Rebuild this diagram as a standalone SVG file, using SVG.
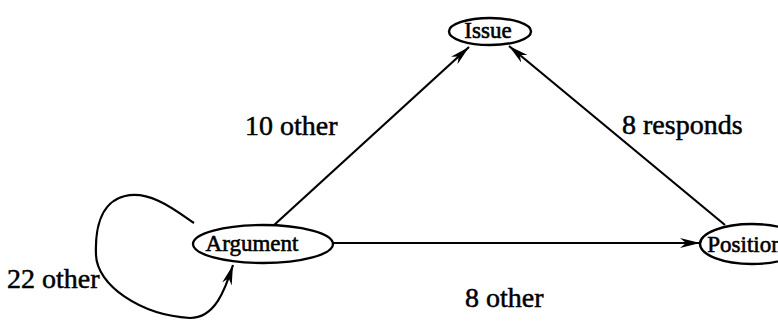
<svg xmlns="http://www.w3.org/2000/svg" width="778" height="322" viewBox="0 0 778 322">
<style>
.node ellipse{fill:#fff;stroke:#000;stroke-width:2.4}
.node text{font-family:"Liberation Serif",serif;font-size:23px;fill:#000;stroke:#000;stroke-width:0.6;text-anchor:middle}
.edge{fill:none;stroke:#000;stroke-width:2.2}
.lbl{font-family:"Liberation Serif",serif;font-size:28px;fill:#000;stroke:#000;stroke-width:0.5}
</style>
<defs>
<marker id="arr" viewBox="0 0 20 10" refX="20" refY="5" markerWidth="20" markerHeight="10" markerUnits="userSpaceOnUse" orient="auto">
<path d="M0,0 L20,5 L0,10 L6,5 Z" fill="#000"/>
</marker>
</defs>
<g id="connectors">
<line class="edge" x1="273" y1="226" x2="469" y2="47" marker-end="url(#arr)"/>
<line class="edge" x1="725" y1="225" x2="509" y2="46" marker-end="url(#arr)"/>
<line class="edge" x1="333" y1="243" x2="700" y2="243" marker-end="url(#arr)"/>
<path class="edge" d="M194,223 C175,210 150,190 125,196 C100,202 95,230 96,255 C97,285 140,315 190,318 C215,318 225,290 233,265" marker-end="url(#arr)"/>
</g>
<g id="node-issue" class="node">
<ellipse cx="490" cy="31.5" rx="41" ry="13.5"/>
<text x="488" y="38">Issue</text>
</g>
<g id="node-argument" class="node">
<ellipse cx="263" cy="244" rx="70" ry="19"/>
<text x="252" y="251">Argument</text>
</g>
<g id="node-position" class="node">
<ellipse cx="752" cy="244" rx="52" ry="20"/>
<text x="745" y="252">Position</text>
</g>
<g id="labels">
<text class="lbl" x="245" y="135">10 other</text>
<text class="lbl" x="622" y="134">8 responds</text>
<text class="lbl" x="465" y="307">8 other</text>
<text class="lbl" x="7" y="288">22 other</text>
</g>
</svg>
